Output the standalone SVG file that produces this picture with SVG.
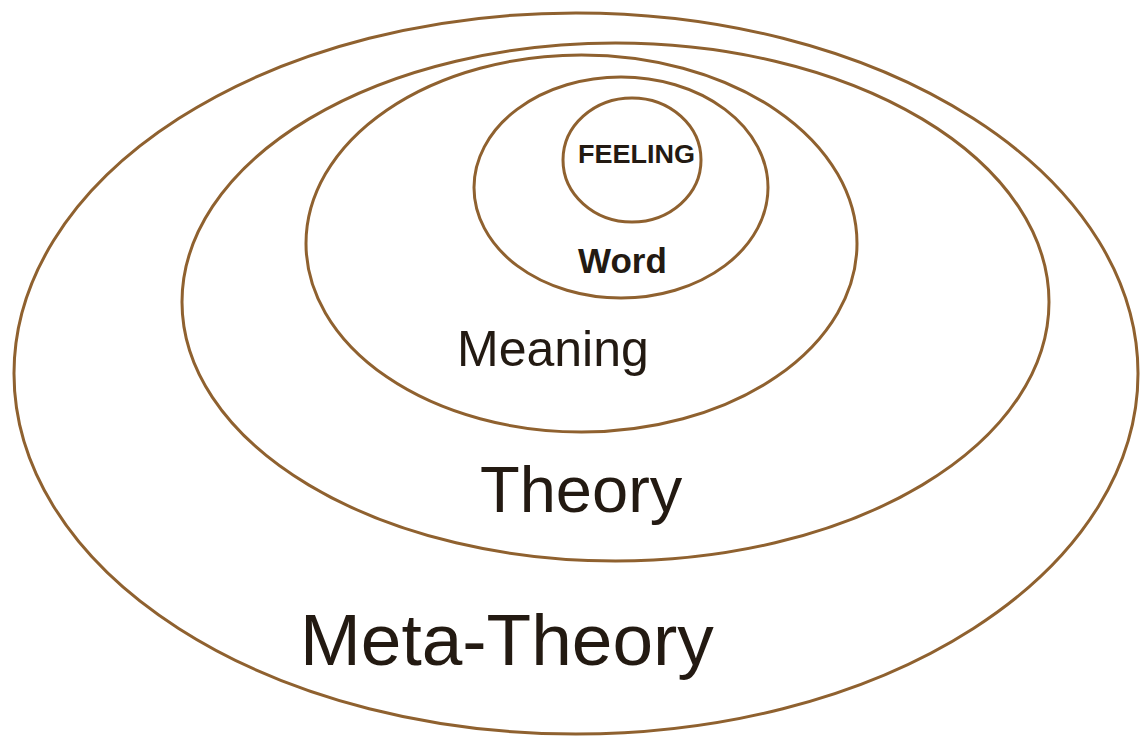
<svg xmlns="http://www.w3.org/2000/svg" width="1148" height="740" viewBox="0 0 1148 740">
<style>
.ring{fill:none;stroke:#8f612f;stroke-width:3}
.lbl{font-family:"Liberation Sans",Arial,sans-serif;fill:#231a12}
.b{font-weight:bold}
</style>
<rect width="1148" height="740" fill="#ffffff"/>
<g id="meta-theory">
<ellipse class="ring" cx="576" cy="373.5" rx="562" ry="360.5"/>
<text class="lbl" x="300" y="665" font-size="73">Meta-Theory</text>
</g>
<g id="theory">
<ellipse class="ring" cx="615.5" cy="302" rx="433.5" ry="259"/>
<text class="lbl" x="480" y="512" font-size="65">Theory</text>
</g>
<g id="meaning">
<ellipse class="ring" cx="581.5" cy="243.5" rx="275.5" ry="188.5"/>
<text class="lbl" x="457" y="366" font-size="50">Meaning</text>
</g>
<g id="word">
<ellipse class="ring" cx="621" cy="187.5" rx="147" ry="110.5"/>
<text class="lbl b" x="578" y="273" font-size="35">Word</text>
</g>
<g id="feeling">
<ellipse class="ring" cx="632" cy="160" rx="69" ry="62"/>
<text class="lbl b" x="578" y="163" font-size="25" textLength="117" lengthAdjust="spacingAndGlyphs">FEELING</text>
</g>
<g id="connectors"/>
</svg>
